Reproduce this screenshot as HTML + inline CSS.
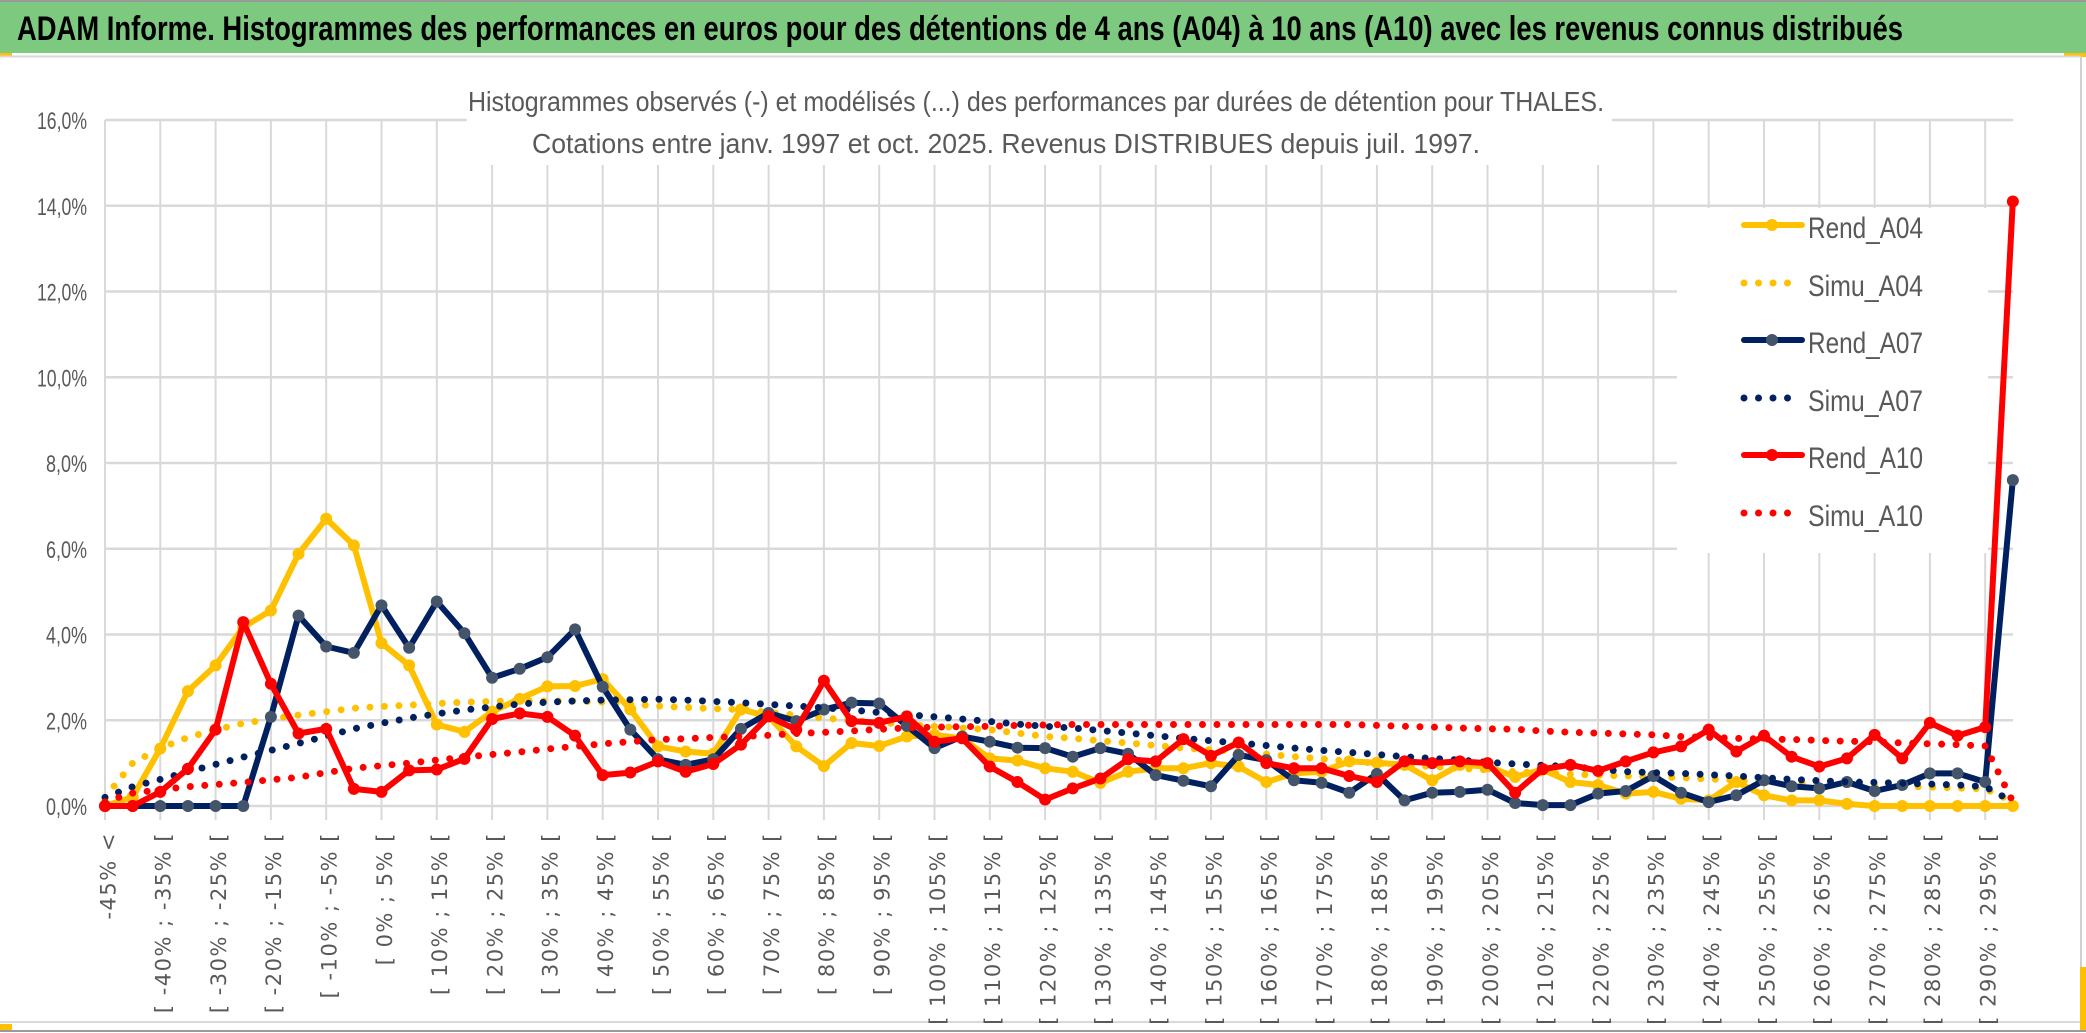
<!DOCTYPE html>
<html><head><meta charset="utf-8"><style>
html,body{margin:0;padding:0;background:#fff;}
svg{display:block;font-family:"Liberation Sans",sans-serif;}
</style></head><body>
<svg id="chart" width="2086" height="1033" viewBox="0 0 2086 1033" xmlns="http://www.w3.org/2000/svg">
<rect x="0" y="0" width="2086" height="1033" fill="#fff"/>
<rect x="0" y="2" width="2086" height="51" fill="#7DC97F"/>
<line x1="0" y1="1" x2="2086" y2="1" stroke="#9a9a9a" stroke-width="2"/>
<text x="17" y="40" font-size="34" font-weight="bold" fill="#000" textLength="1886" lengthAdjust="spacingAndGlyphs">ADAM Informe. Histogrammes des performances en euros pour des détentions de 4 ans (A04) à 10 ans (A10) avec les revenus connus distribués</text>
<rect x="0" y="53" width="12" height="4" fill="#FFC000"/>
<rect x="2064" y="53" width="22" height="4" fill="#FFC000"/>
<line x1="0" y1="56.5" x2="2081" y2="56.5" stroke="#d9d9d9" stroke-width="2"/>
<line x1="2081" y1="57" x2="2081" y2="1022" stroke="#d0d0d0" stroke-width="2"/>
<line x1="0" y1="1022" x2="2081" y2="1022" stroke="#d9d9d9" stroke-width="2"/>
<line x1="0" y1="1031" x2="2086" y2="1031" stroke="#9a9a9a" stroke-width="2"/>
<rect x="0" y="1024" width="12" height="6" fill="#FFC000"/>
<rect x="2080" y="967" width="6" height="63" fill="#FFC000"/>
<g id="grid"></g>
<rect x="467" y="80" width="1145" height="85" fill="#fff"/>
<text x="1036" y="111" font-size="28" fill="#595959" text-anchor="middle" textLength="1136" lengthAdjust="spacingAndGlyphs">Histogrammes observés (-) et modélisés (...) des performances par durées de détention pour THALES.</text>
<text x="1006" y="153" font-size="28" fill="#595959" text-anchor="middle" textLength="948" lengthAdjust="spacingAndGlyphs">Cotations entre janv. 1997 et oct. 2025. Revenus DISTRIBUES depuis juil. 1997.</text>
<g id="yaxis"></g>
<g id="xaxis"></g>
<rect x="1677" y="208" width="311" height="345" fill="#fff"/>
<g id="series"></g>
<g id="legend"></g>
</svg>
<script>
const categoryCount = 70;
const yTicks = [0, 2, 4, 6, 8, 10, 12, 14, 16];
const yTickLabels = ["0,0%","2,0%","4,0%","6,0%","8,0%","10,0%","12,0%","14,0%","16,0%"];
const rendA04 = [0,0.21,1.34,2.68,3.28,4.17,4.56,5.88,6.7,6.08,3.8,3.28,1.9,1.73,2.2,2.5,2.79,2.8,2.96,2.25,1.39,1.27,1.22,2.25,2.09,1.39,0.93,1.47,1.4,1.62,1.66,1.58,1.11,1.06,0.88,0.8,0.54,0.8,0.88,0.88,1.0,0.92,0.56,0.76,0.8,1.04,1.01,0.96,0.6,0.96,0.92,0.68,0.85,0.56,0.49,0.29,0.33,0.17,0.13,0.56,0.25,0.13,0.13,0.05,0,0,0,0,0,0];
const simuA04 = [0.2,1.0,1.35,1.6,1.78,1.93,2.03,2.12,2.2,2.28,2.32,2.35,2.39,2.42,2.44,2.45,2.45,2.45,2.42,2.38,2.33,2.3,2.27,2.25,2.18,2.12,2.05,2.0,1.95,1.9,1.86,1.82,1.78,1.7,1.62,1.58,1.52,1.47,1.41,1.35,1.31,1.27,1.21,1.15,1.1,1.04,1.0,0.96,0.92,0.88,0.84,0.8,0.77,0.74,0.72,0.7,0.68,0.66,0.63,0.6,0.57,0.54,0.52,0.5,0.48,0.46,0.44,0.42,0.4,0.1];
const rendA07 = [0,0,0,0,0,0,2.08,4.44,3.72,3.57,4.68,3.69,4.77,4.03,2.99,3.2,3.47,4.12,2.78,1.78,1.09,0.96,1.09,1.8,2.17,1.98,2.25,2.41,2.39,1.87,1.35,1.62,1.5,1.36,1.35,1.15,1.35,1.22,0.72,0.59,0.46,1.19,1.07,0.6,0.54,0.31,0.75,0.13,0.31,0.33,0.38,0.07,0.02,0.02,0.29,0.35,0.7,0.31,0.09,0.25,0.6,0.46,0.41,0.56,0.35,0.49,0.76,0.76,0.56,7.6];
const simuA07 = [0.2,0.45,0.62,0.8,0.97,1.14,1.3,1.46,1.63,1.8,1.93,2.05,2.15,2.24,2.31,2.38,2.42,2.45,2.47,2.48,2.49,2.47,2.44,2.41,2.37,2.33,2.29,2.24,2.18,2.13,2.08,2.03,1.97,1.91,1.86,1.82,1.76,1.7,1.64,1.58,1.52,1.47,1.41,1.35,1.3,1.25,1.2,1.15,1.11,1.07,1.02,0.98,0.95,0.92,0.86,0.8,0.78,0.76,0.73,0.7,0.66,0.62,0.59,0.56,0.55,0.53,0.51,0.49,0.45,0.1];
const rendA10 = [0,0,0.33,0.87,1.78,4.29,2.85,1.69,1.8,0.4,0.33,0.83,0.85,1.1,2.03,2.16,2.08,1.64,0.72,0.78,1.04,0.8,0.98,1.43,2.09,1.78,2.92,1.98,1.94,2.09,1.5,1.58,0.92,0.56,0.15,0.41,0.64,1.09,1.04,1.56,1.17,1.48,1.0,0.88,0.88,0.7,0.56,1.04,1.0,1.04,1.0,0.31,0.86,0.96,0.82,1.04,1.25,1.39,1.78,1.27,1.64,1.15,0.92,1.11,1.66,1.11,1.94,1.64,1.84,14.1];
const simuA10 = [0.1,0.3,0.38,0.45,0.5,0.55,0.61,0.67,0.78,0.88,0.94,1.0,1.07,1.14,1.2,1.26,1.33,1.39,1.45,1.5,1.55,1.57,1.6,1.62,1.65,1.69,1.72,1.75,1.79,1.82,1.84,1.85,1.86,1.88,1.89,1.9,1.9,1.9,1.9,1.9,1.9,1.9,1.9,1.9,1.9,1.9,1.88,1.86,1.84,1.82,1.8,1.79,1.75,1.72,1.7,1.68,1.66,1.62,1.6,1.58,1.56,1.55,1.53,1.51,1.5,1.47,1.45,1.43,1.4,0.1];
const seriesNames = ["Rend_A04","Simu_A04","Rend_A07","Simu_A07","Rend_A10","Simu_A10"];

const NS = "http://www.w3.org/2000/svg";
const X0 = 105, XSTEP = 27.65, Y0 = 806, YMAX = 16, YTOP = 120;
function xs(i){ return X0 + XSTEP * i; }
function ys(v){ return Y0 - (Y0 - YTOP) * v / YMAX; }
function mk(tag, attrs, parent){ const e = document.createElementNS(NS, tag); for (const k in attrs) e.setAttribute(k, attrs[k]); parent.appendChild(e); return e; }
function catLabel(i){
  if (i === 0) return "-45% <";
  const lo = 5 * i - 50, hi = lo + 5;
  return "[ " + lo + "% ; " + hi + "% [";
}

const grid = document.getElementById("grid");
yTicks.forEach((t) => {
  const l = mk("line", {x1: X0, x2: 2013, y1: ys(t), y2: ys(t), stroke: "#d9d9d9", "stroke-width": 2.5}, grid);
  
  
});
for (let i = 0; i < categoryCount; i += 2) {
  const l = mk("line", {x1: xs(i), x2: xs(i), y1: YTOP, y2: Y0 + 14, stroke: "#d9d9d9", "stroke-width": 2}, grid);
  
  
}

const yaxis = document.getElementById("yaxis");
yTicks.forEach((t, k) => {
  const tx = mk("text", {x: 87, y: ys(t) + 9, "font-size": 24, fill: "#595959", "text-anchor": "end", textLength: yTickLabels[k].length > 4 ? 50 : 41, lengthAdjust: "spacingAndGlyphs"}, yaxis);
  tx.textContent = yTickLabels[k];
  
  
});

const xaxis = document.getElementById("xaxis");
for (let i = 0; i < categoryCount - 1; i += 2) {
  const cx = xs(i) + 3, cy = 832;
  const tx = mk("text", {x: cx, y: cy, "font-size": 21, "letter-spacing": 1.5, fill: "#595959", "text-anchor": "end", "font-family": "DejaVu Sans, sans-serif", dy: "0.35em", transform: "rotate(-90 " + cx + " " + cy + ")"}, xaxis);
  tx.textContent = catLabel(i);
  
  
}

const series = document.getElementById("series");
function pathFor(arr){ return arr.map((v, i) => (i ? "L" : "M") + xs(i).toFixed(1) + " " + ys(v).toFixed(1)).join(" "); }
function drawSolid(arr, color, marker, name){
  const g = mk("g", {}, series);
  
  
  const p = mk("path", {d: pathFor(arr), fill: "none", stroke: color, "stroke-width": 6, "stroke-linejoin": "round"}, g);
  
  
  arr.forEach((v, i) => {
    const c = mk("circle", {cx: xs(i), cy: ys(v), r: 6, fill: marker}, g);
    
    
  });
}
function drawDotted(arr, color, name){
  const p = mk("path", {d: pathFor(arr), fill: "none", stroke: color, "stroke-width": 7, "stroke-linecap": "round", "stroke-dasharray": "0 14.5"}, series);
  
  
}
drawSolid(rendA04, "#FFC000", "#FFC000", "rend-a04");
drawDotted(simuA04, "#FFC000", "simu-a04");
drawSolid(rendA07, "#002060", "#44546A", "rend-a07");
drawDotted(simuA07, "#002060", "simu-a07");
drawSolid(rendA10, "#FF0000", "#FF0000", "rend-a10");
drawDotted(simuA10, "#FF0000", "simu-a10");

const legend = document.getElementById("legend");
const legendY = [235, 293, 350, 408, 465, 523];
const legendColors = ["#FFC000","#FFC000","#002060","#002060","#FF0000","#FF0000"];
const legendMarkers = ["#FFC000", null, "#44546A", null, "#FF0000", null];
seriesNames.forEach((n, k) => {
  const g = mk("g", {}, legend);
  
  
  const y = legendY[k];
  if (legendMarkers[k]) {
    mk("line", {x1: 1744, x2: 1802, y1: y - 10, y2: y - 10, stroke: legendColors[k], "stroke-width": 6, "stroke-linecap": "round"}, g);
    mk("circle", {cx: 1772, cy: y - 10, r: 6, fill: legendMarkers[k]}, g);
  } else {
    mk("line", {x1: 1744, x2: 1800, y1: y - 10, y2: y - 10, stroke: legendColors[k], "stroke-width": 7, "stroke-linecap": "round", "stroke-dasharray": "0 14.5"}, g);
  }
  const t = mk("text", {x: 1808, y: y + 3, "font-size": 30, fill: "#595959", textLength: 115, lengthAdjust: "spacingAndGlyphs"}, g);
  t.textContent = n;
  
  
});
</script>
</body></html>
